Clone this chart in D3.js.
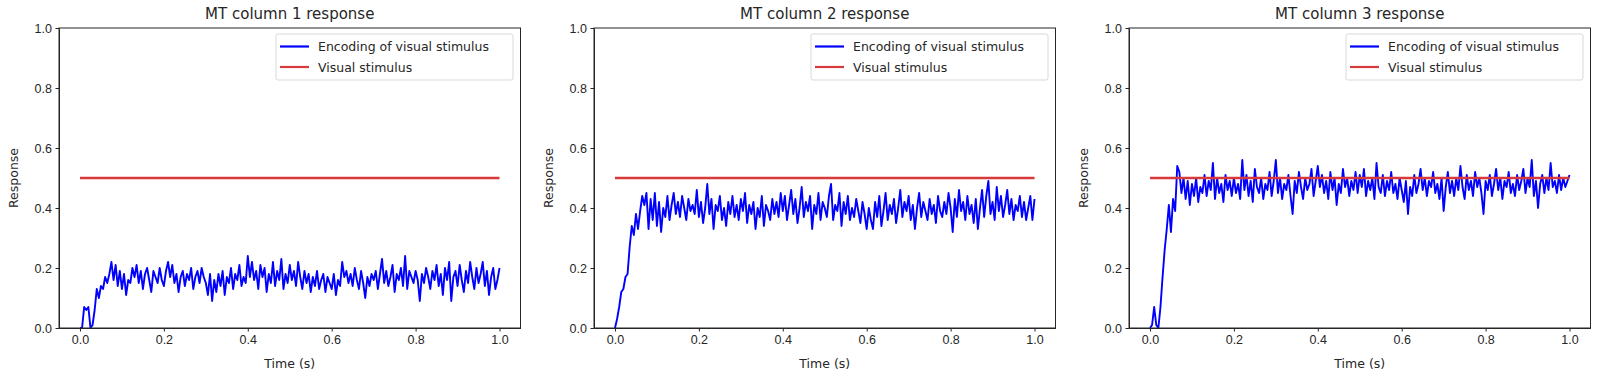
<!DOCTYPE html>
<html>
<head>
<meta charset="utf-8">
<script src="https://cdn.jsdelivr.net/npm/d3@7"></script>
<style>
  body { margin: 0; background: #fff; }
  svg { display: block; font-family: "DejaVu Sans", sans-serif; }
  .tick text { font-size: 12.5px; fill: #262626; }
  .tick line, .domain { stroke: #262626; }
</style>
</head>
<body>
<svg width="1597" height="379"></svg>
<script>
// sample times: 0 .. 1 s every 5 ms
var dt = 0.005;

var titles = ["MT column 1 response", "MT column 2 response", "MT column 3 response"];
var legendLabels = ["Encoding of visual stimulus", "Visual stimulus"];
var yTicks = [0, 0.2, 0.4, 0.6, 0.8, 1.0];
var xTicks = [0, 0.2, 0.4, 0.6, 0.8, 1.0];
var stimulusLevel = 0.5;

var column1 = [
  0, 0, 0.07, 0.06, 0.07, 0.0, 0.01, 0.06, 0.13, 0.10, 0.14, 0.13, 0.17, 0.15, 0.18, 0.22, 0.16, 0.21, 0.14, 0.19,
  0.13, 0.18, 0.11, 0.16, 0.15, 0.20, 0.17, 0.21, 0.15, 0.19, 0.13, 0.18, 0.20, 0.16, 0.12, 0.19, 0.17, 0.15, 0.20, 0.16,
  0.14, 0.19, 0.22, 0.17, 0.21, 0.15, 0.18, 0.12, 0.17, 0.19, 0.14, 0.18, 0.16, 0.20, 0.13, 0.17, 0.19, 0.15, 0.20, 0.17,
  0.15, 0.11, 0.18, 0.09, 0.16, 0.12, 0.18, 0.14, 0.19, 0.11, 0.17, 0.15, 0.20, 0.13, 0.18, 0.16, 0.21, 0.14, 0.17, 0.15,
  0.24, 0.17, 0.22, 0.16, 0.19, 0.13, 0.21, 0.17, 0.20, 0.12, 0.18, 0.15, 0.22, 0.14, 0.19, 0.16, 0.23, 0.13, 0.18, 0.15,
  0.21, 0.16, 0.19, 0.14, 0.22, 0.17, 0.13, 0.19, 0.15, 0.18, 0.12, 0.17, 0.14, 0.19, 0.13, 0.16, 0.18, 0.12, 0.17, 0.15,
  0.13, 0.18, 0.11, 0.16, 0.14, 0.22, 0.17, 0.19, 0.15, 0.18, 0.14, 0.20, 0.16, 0.13, 0.19, 0.15, 0.10, 0.17, 0.14, 0.18,
  0.16, 0.19, 0.13, 0.18, 0.23, 0.15, 0.19, 0.14, 0.17, 0.21, 0.12, 0.18, 0.16, 0.20, 0.14, 0.24, 0.13, 0.19, 0.17, 0.15,
  0.19, 0.16, 0.09, 0.18, 0.15, 0.20, 0.17, 0.13, 0.19, 0.16, 0.21, 0.14, 0.18, 0.11, 0.20, 0.16, 0.22, 0.09, 0.17, 0.19,
  0.14, 0.21, 0.16, 0.12, 0.19, 0.15, 0.22, 0.17, 0.13, 0.20, 0.15, 0.18, 0.22, 0.14, 0.19, 0.11, 0.17, 0.20, 0.13, 0.16, 0.20
];

var column2 = [
  0, 0.03, 0.07, 0.12, 0.13, 0.17, 0.18, 0.27, 0.34, 0.31, 0.38, 0.33, 0.39, 0.44, 0.41, 0.45, 0.33, 0.43, 0.36, 0.45,
  0.34, 0.42, 0.32, 0.40, 0.37, 0.44, 0.36, 0.41, 0.45, 0.38, 0.42, 0.37, 0.44, 0.40, 0.36, 0.43, 0.39, 0.41, 0.38, 0.46,
  0.37, 0.42, 0.35, 0.40, 0.48, 0.38, 0.43, 0.33, 0.41, 0.39, 0.44, 0.36, 0.40, 0.34, 0.42, 0.38, 0.44, 0.37, 0.41, 0.36,
  0.43, 0.39, 0.45, 0.35, 0.41, 0.38, 0.42, 0.33, 0.40, 0.37, 0.44, 0.34, 0.41, 0.39, 0.36, 0.43, 0.38, 0.42, 0.37, 0.45,
  0.39, 0.44, 0.36, 0.41, 0.46, 0.38, 0.43, 0.35, 0.40, 0.47, 0.37, 0.42, 0.39, 0.44, 0.33, 0.41, 0.38, 0.45, 0.36, 0.42,
  0.40, 0.37, 0.44, 0.48, 0.36, 0.41, 0.39, 0.45, 0.34, 0.42, 0.38, 0.44, 0.36, 0.40, 0.37, 0.43, 0.39, 0.35, 0.42, 0.38,
  0.33, 0.40, 0.36, 0.33, 0.42, 0.37, 0.44, 0.34, 0.39, 0.45, 0.36, 0.41, 0.38, 0.43, 0.35, 0.40, 0.46, 0.37, 0.42, 0.39,
  0.44, 0.36, 0.41, 0.33, 0.40, 0.45, 0.37, 0.42, 0.39, 0.36, 0.43, 0.38, 0.41, 0.35, 0.44, 0.39, 0.37, 0.42, 0.38, 0.45,
  0.40, 0.32, 0.43, 0.37, 0.46, 0.39, 0.42, 0.36, 0.44, 0.38, 0.41, 0.35, 0.43, 0.33, 0.40, 0.46, 0.37, 0.44, 0.49, 0.38,
  0.42, 0.36, 0.47, 0.39, 0.44, 0.37, 0.41, 0.46, 0.38, 0.43, 0.36, 0.41, 0.39, 0.44, 0.37, 0.42, 0.36, 0.40, 0.44, 0.36, 0.43
];

var column3 = [
  0, 0.01, 0.07, 0.01, 0.0, 0.07, 0.17, 0.26, 0.33, 0.41, 0.32, 0.43, 0.39, 0.54, 0.52, 0.45, 0.50, 0.43, 0.49, 0.41,
  0.48, 0.44, 0.50, 0.42, 0.47, 0.45, 0.51, 0.44, 0.49, 0.46, 0.55, 0.43, 0.50, 0.45, 0.48, 0.42, 0.51, 0.46, 0.49, 0.44,
  0.50, 0.45, 0.48, 0.43, 0.56, 0.46, 0.51, 0.44, 0.49, 0.42, 0.53, 0.47, 0.45, 0.50, 0.43, 0.48, 0.46, 0.52, 0.44, 0.49,
  0.56, 0.45, 0.50, 0.43, 0.48, 0.46, 0.51, 0.44, 0.38, 0.49, 0.45, 0.52, 0.47, 0.43, 0.50, 0.46, 0.48, 0.53, 0.44, 0.49,
  0.54, 0.47, 0.51, 0.45, 0.49, 0.43, 0.52, 0.46, 0.50, 0.41, 0.48, 0.45, 0.53, 0.47, 0.50, 0.44, 0.49, 0.46, 0.52, 0.45,
  0.51, 0.47, 0.53, 0.44, 0.49, 0.46, 0.50, 0.43, 0.55, 0.47, 0.45, 0.51, 0.44, 0.49, 0.46, 0.52, 0.45, 0.48, 0.43, 0.50,
  0.46, 0.42, 0.49, 0.38, 0.47, 0.44, 0.51, 0.45, 0.48, 0.53, 0.46, 0.50, 0.44, 0.49, 0.47, 0.52, 0.45, 0.48, 0.43, 0.50,
  0.39, 0.47, 0.52, 0.45, 0.49, 0.44, 0.50, 0.46, 0.54, 0.47, 0.43, 0.51, 0.46, 0.49, 0.44, 0.52, 0.47, 0.50, 0.45, 0.38,
  0.49, 0.46, 0.51, 0.44, 0.48, 0.53, 0.46, 0.50, 0.43, 0.49, 0.47, 0.52, 0.45, 0.48, 0.44, 0.51, 0.46, 0.49, 0.53, 0.45,
  0.50, 0.47, 0.56, 0.44, 0.49, 0.40, 0.48, 0.51, 0.45, 0.50, 0.46, 0.55, 0.47, 0.49, 0.45, 0.51, 0.46, 0.50, 0.47, 0.49, 0.51
];

var series = [column1, column2, column3];

var svg = d3.select("svg");
var plotW = 461.5, plotH = 300, plotTop = 28;
var lefts = [59, 594, 1129];
var blue = "#0000ff", red = "#d63a3a";

series.forEach(function(vals, i) {
    var g = svg.append("g").attr("transform", "translate(" + lefts[i] + "," + plotTop + ")");

    var x = d3.scaleLinear().domain([-0.05, 1.05]).range([0, plotW]);
    var y = d3.scaleLinear().domain([0, 1]).range([plotH, 0]);

    var pts = vals.map((v, k) => ({ t: k * dt, v: v }));

    var line = d3.line()
        .x(d => x(d.t))
        .y(d => y(d.v));

    g.append("path")
        .datum(pts)
        .attr("fill", "none")
        .attr("stroke", blue)
        .attr("stroke-width", 1.9)
        .attr("stroke-linejoin", "round")
        .attr("d", line);

    g.append("path")
        .datum([{ t: 0, v: stimulusLevel }, { t: 1, v: stimulusLevel }])
        .attr("fill", "none")
        .attr("stroke", red)
        .attr("stroke-width", 2.4)
        .attr("d", line);

    // axes
    g.append("g")
        .attr("transform", "translate(0," + plotH + ")")
        .call(d3.axisBottom(x).tickValues(xTicks).tickFormat(d3.format(".1f")).tickSize(3.5).tickPadding(3.5).tickSizeOuter(0));
    g.append("g")
        .call(d3.axisLeft(y).tickValues(yTicks).tickFormat(d3.format(".1f")).tickSize(3.5).tickPadding(3.5).tickSizeOuter(0));

    // frame
    g.append("rect")
        .attr("width", plotW).attr("height", plotH)
        .attr("fill", "none")
        .attr("stroke", "#262626")
        .attr("stroke-width", 1);

    g.append("text")
        .attr("x", plotW / 2).attr("y", -9)
        .attr("text-anchor", "middle")
        .attr("font-size", 15)
        .attr("fill", "#262626")
        .text(titles[i]);

    g.append("text")
        .attr("x", plotW / 2).attr("y", plotH + 40)
        .attr("text-anchor", "middle")
        .attr("font-size", 12.5)
        .attr("fill", "#262626")
        .text("Time (s)");

    g.append("text")
        .attr("transform", "translate(" + (-41) + "," + (plotH / 2) + ") rotate(-90)")
        .attr("text-anchor", "middle")
        .attr("font-size", 12.5)
        .attr("fill", "#262626")
        .text("Response");

    // legend
    var lw = 237, lh = 46;
    var lg = g.append("g").attr("transform", "translate(" + (plotW - 7.5 - lw) + ",6)");
    lg.append("rect")
        .attr("width", lw).attr("height", lh)
        .attr("rx", 2)
        .attr("fill", "#fff").attr("fill-opacity", 0.8)
        .attr("stroke", "#d9d9d9");
    [blue, red].forEach(function(c, j) {
        var yy = 12.5 + j * 20.5;
        lg.append("line")
            .attr("x1", 4).attr("x2", 33)
            .attr("y1", yy).attr("y2", yy)
            .attr("stroke", c).attr("stroke-width", 2.2);
        lg.append("text")
            .attr("x", 42).attr("y", yy + 4.5)
            .attr("font-size", 12.5)
            .attr("fill", "#262626")
            .text(legendLabels[j]);
    });
});
</script>
</body>
</html>
